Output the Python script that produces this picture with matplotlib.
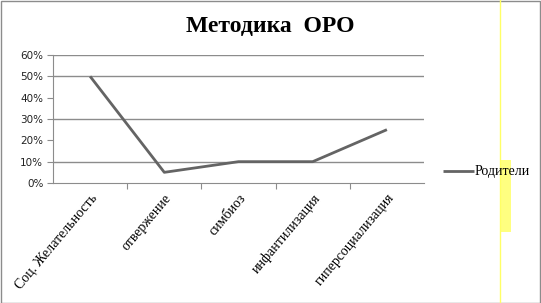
import matplotlib.pyplot as plt
from matplotlib.patches import Rectangle

categories = ["Соц. Желательность", "отвержение", "симбиоз", "инфантилизация", "гиперсоциализация"]
parents = [0.50, 0.05, 0.10, 0.10, 0.25]
y_ticks = [0.0, 0.1, 0.2, 0.3, 0.4, 0.5, 0.6]
tick_labels = ["0%", "10%", "20%", "30%", "40%", "50%", "60%"]
grid_levels = [0.1, 0.3, 0.5, 0.6]  # only these grid lines survive in the screenshot

fig = plt.figure(figsize=(5.41, 3.03), dpi=100)
W, H = 541, 303
ax = fig.add_axes([53 / W, 1 - 183 / H, (424 - 53) / W, (183 - 55) / H])

x = list(range(len(categories)))
ax.plot(x, parents, color="#646464", lw=2, solid_capstyle="butt", label="Родители")
ax.set_xlim(-0.5, len(categories) - 0.5)
ax.set_ylim(0, 0.6)

for g in grid_levels:
    ax.axhline(g, color="#8c8c8c", lw=1, zorder=0)

ax.set_yticks(y_ticks)
ax.set_yticklabels(tick_labels, fontsize=7.5, family="DejaVu Sans", color="#222222")
ax.set_xticks([i - 0.5 for i in range(1, len(categories))], minor=False)
ax.set_xticklabels([])
ax.set_xticks(x, minor=True)
ax.set_xticklabels(categories, minor=True, rotation=50, ha="right", va="top",
                   rotation_mode="anchor", family="Liberation Serif", fontsize=10)
ax.tick_params(axis="x", which="minor", length=0, pad=6)
ax.tick_params(axis="x", which="major", length=4, color="#8c8c8c")
ax.tick_params(axis="y", length=4, color="#8c8c8c", pad=3)

for side in ["top", "right"]:
    ax.spines[side].set_visible(False)
for side in ["left", "bottom"]:
    ax.spines[side].set_color("#8c8c8c")

fig.text(270 / W, 1 - 26 / H, "Методика  ОРО", ha="center", va="center",
         family="Liberation Serif", fontweight="bold", fontsize=17)

leg = fig.legend(loc="center left", bbox_to_anchor=(443 / W, 1 - 172 / H), frameon=False,
                 prop={"family": "Liberation Serif", "size": 10}, handlelength=2.2,
                 handletextpad=0.1, borderaxespad=0, borderpad=0)

# screenshot frame and yellow strip on the right
fig.patches.append(Rectangle((0.5 / W, 0.5 / H), 539.5 / W, 301.5 / H, transform=fig.transFigure,
                             fill=False, edgecolor="#8c8c8c", lw=1))
fig.lines.append(plt.Line2D([500 / W, 500 / W], [0, 1], transform=fig.transFigure,
                            color="#ffff66", lw=1))
fig.patches.append(Rectangle((500 / W, 1 - 232 / H), 11 / W, 72 / H, transform=fig.transFigure,
                             color="#ffff80", lw=0))

fig.savefig("out.png", dpi=100)
